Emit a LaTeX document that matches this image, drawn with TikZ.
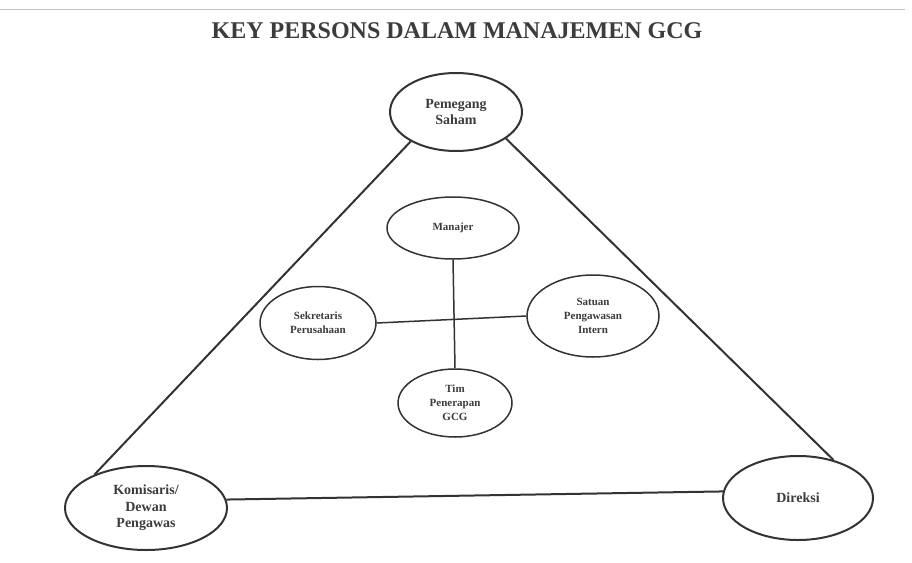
\documentclass[tikz,border=0pt]{standalone}
\usepackage{fontspec}
\setmainfont{Liberation Serif}
\usetikzlibrary{shapes.geometric}
\definecolor{ink}{HTML}{333333}
\definecolor{txt}{HTML}{3C3C3C}
\tikzset{
  outer/.style={ellipse, draw=ink, line width=2pt, inner sep=0pt, align=center,
     text=txt, font=\fontsize{14}{16.5}\selectfont\bfseries},
  inner/.style={ellipse, draw=ink, line width=1.5pt, inner sep=0pt, align=center,
     text=txt, font=\fontsize{11}{14}\selectfont\bfseries},
  link/.style={draw=ink, line width=2pt},
  ilink/.style={draw=ink, line width=1.5pt}
}
\begin{document}
\begin{tikzpicture}[x=1pt,y=-1pt]
\useasboundingbox[fill=white] (0,0) rectangle (912,562);
\draw[gray!45, line width=1pt] (0,9) -- (905,9);
\node[text=txt, font=\fontsize{24}{28}\selectfont\bfseries] (title) at (457,31) {KEY PERSONS DALAM MANAJEMEN GCG};

\node[outer, minimum width=132pt, minimum height=78pt] (pem) at (456,112) {Pemegang\\Saham};
\node[outer, minimum width=162pt, minimum height=84pt] (kom) at (146,508) {Komisaris/\\Dewan\\Pengawas};
\node[outer, minimum width=150pt, minimum height=84pt] (dir) at (798,498) {Direksi};

\node[inner, minimum width=132pt, minimum height=62pt] (man) at (453,228) {Manajer};
\node[inner, minimum width=116pt, minimum height=73pt] (sek) at (318,323) {Sekretaris\\Perusahaan};
\node[inner, minimum width=132pt, minimum height=82pt] (sat) at (593,316) {Satuan\\Pengawasan\\Intern};
\node[inner, minimum width=114pt, minimum height=68pt] (tim) at (455,403) {Tim\\Penerapan\\GCG};

\draw[link] (pem.213) -- (kom.147);
\draw[link] (pem.332) -- (dir.47);
\draw[link] (kom.6) -- (dir.175);
\draw[ilink] (man.south) -- (tim.north);
\draw[ilink] (sek.east) -- (sat.west);
\end{tikzpicture}
\end{document}
